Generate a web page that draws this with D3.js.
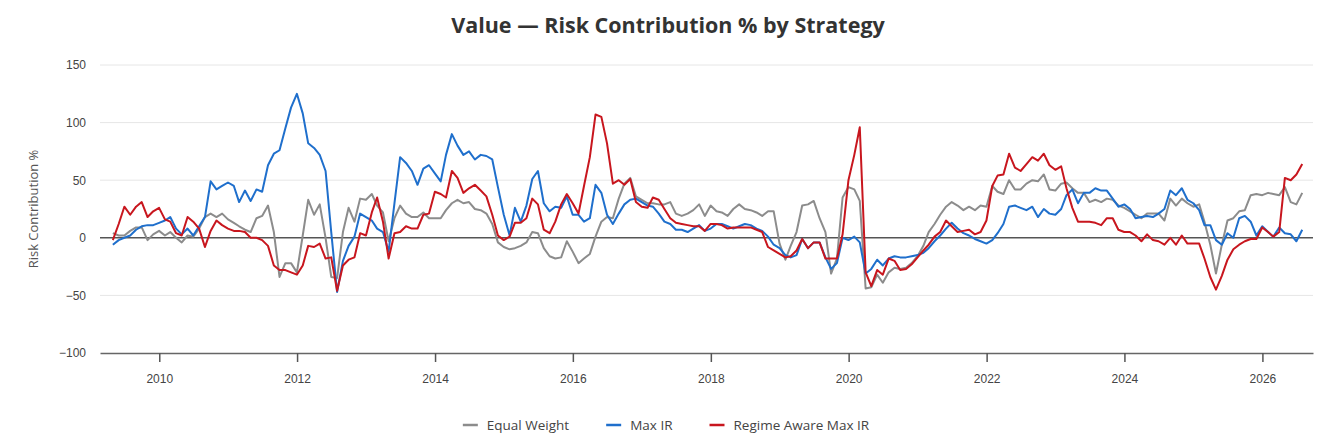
<!DOCTYPE html>
<html>
<head>
<meta charset="utf-8">
<script src="https://cdn.jsdelivr.net/npm/d3@7"></script>
<style>
    body { margin: 0; background: #fff; }
    svg { display: block; font-family: "Open Sans", "Noto Sans", sans-serif; }
</style>
</head>
<body>
<div id="chart"></div>
<script>
// Monthly observations, month-end, starting April 2009
let startYear = 2009
let startMonth = 4   // April

// Tick labels on the axes
let yearTicks = [2010, 2012, 2014, 2016, 2018, 2020, 2022, 2024, 2026]
let valueTicks = [-100, -50, 0, 50, 100, 150]

// Series names and colours
let seriesNames = ['Equal Weight', 'Max IR', 'Regime Aware Max IR']
let seriesColors = ['#8c8c8c', '#1f6fcc', '#c8161e']

// Risk contribution % per month
let equalWeight = [
    4, 2, 2, 6, 9, 9, -2, 3, 6, 2, 5, 0, -4, 2, 1, 8, 18, 21, 18, 21, 16, 13, 10, 7, 5, 17,
    19, 28, 5, -34, -22, -22, -30, 2, 33, 20, 29, 0, -34, -35, 5, 26, 14, 34, 33, 38, 28, 22, -3, 17, 28, 21,
    18, 18, 22, 17, 17, 17, 24, 30, 33, 30, 31, 25, 24, 21, 12, -4, -8, -10, -9, -7, -4, 5, 4, -9, -16, -18,
    -17, -3, -12, -22, -18, -14, 1, 14, 18, 17, 34, 47, 52, 36, 33, 30, 30, 29, 29, 31, 21, 19, 21, 24, 29, 19,
    28, 23, 22, 19, 25, 29, 25, 24, 22, 19, 23, 23, -5, -19, -7, 5, 28, 29, 32, 17, 5, -31, -18, 35, 44, 42, 32,
    -44, -43, -32, -39, -30, -26, -27, -26, -22, -16, -7, 5, 12, 20, 27, 31, 28, 24, 27, 24, 28, 27, 45, 40, 38,
    50, 42, 42, 47, 50, 49, 55, 42, 41, 47, 48, 43, 39, 39, 31, 33, 31, 34, 33, 28, 26, 23, 20, 17, 21, 21, 21,
    15, 34, 28, 34, 30, 27, 29, 14, -6, -31, -6, 15, 17, 23, 24, 37, 38, 37, 39, 38, 37, 44, 31, 29, 39
]
let maxIR = [
    -6, -2, 0, 2, 7, 10, 11, 11, 13, 15, 18, 8, 3, 8, 2, 10, 18, 49, 42, 45, 48, 45, 31, 41, 32, 42,
    40, 63, 73, 76, 95, 113, 125, 108, 82, 78, 72, 58, 5, -47, -20, -7, 1, 21, 18, 15, 8, 5, -12, 30, 70, 65,
    58, 46, 60, 63, 56, 49, 72, 90, 80, 72, 75, 68, 72, 71, 68, 44, 20, 2, 26, 14, 28, 51, 58, 30, 23, 27,
    26, 36, 20, 20, 14, 17, 46, 39, 20, 12, 21, 29, 33, 34, 31, 28, 27, 21, 14, 12, 7, 7, 5, 8, 11, 6,
    8, 12, 12, 10, 8, 10, 12, 11, 8, 6, 1, -6, -9, -15, -17, -15, -1, -9, -4, -4, -17, -27, -22, 0, -2, 1, -4,
    -31, -27, -19, -24, -18, -16, -17, -17, -16, -15, -13, -9, -3, 2, 8, 13, 8, 4, 2, -1, -3, -5, -2, 4, 12,
    27, 28, 26, 24, 27, 18, 25, 21, 20, 25, 37, 42, 30, 39, 39, 43, 41, 41, 34, 27, 29, 25, 17, 18, 19, 18, 21,
    25, 41, 37, 43, 33, 30, 24, 11, 11, -2, -6, 4, 0, 17, 19, 14, 2, 10, 5, 1, 9, 4, 3, -3, 7
]
let regimeAware = [
    -2, 12, 27, 20, 27, 31, 18, 23, 26, 16, 14, 4, 2, 18, 14, 8, -8, 6, 15, 11, 8, 6, 6, 5, 0, 0,
    -2, -7, -24, -28, -28, -30, -32, -24, -7, -8, -5, -18, -17, -46, -24, -19, -17, 4, 2, 22, 35, 14, -18, 4, 5, 10,
    8, 8, 20, 21, 40, 38, 35, 58, 52, 39, 43, 46, 41, 36, 20, 2, -2, 1, 13, 13, 17, 34, 29, 7, 4, 14,
    29, 38, 30, 21, 45, 70, 107, 105, 82, 47, 50, 46, 51, 31, 27, 26, 35, 33, 25, 17, 13, 12, 11, 10, 10, 6,
    12, 12, 11, 8, 9, 9, 9, 9, 7, 5, -8, -11, -14, -17, -16, -11, -1, -9, -4, -4, -18, -18, -18, 3, 50, 72, 96,
    -30, -42, -28, -32, -18, -20, -28, -27, -23, -17, -11, -6, 1, 5, 15, 10, 5, 6, 7, 3, 5, 15, 45, 54, 55,
    73, 61, 58, 64, 70, 67, 73, 63, 59, 62, 43, 26, 14, 14, 14, 13, 11, 17, 17, 7, 5, 5, 2, -3, 3, -2, -3,
    -6, 0, -6, 2, -5, -5, -5, -18, -34, -45, -33, -19, -10, -6, -3, -1, -1, 9, 5, 1, 5, 52, 50, 55, 64
]

window.onload = function() {
    DrawChart();
}

function DrawChart() {
    let width = 1340
    let height = 435
    let margin = { top: 65, right: 27, bottom: 82, left: 100 }

    // Month-end dates for every observation
    let dates = equalWeight.map((d, i) => new Date(startYear, startMonth + i, 0))
    let allSeries = [equalWeight, maxIR, regimeAware]

    let svg = d3.select('#chart')
        .append('svg')
        .attr('width', width)
        .attr('height', height);

    // Scales
    let x = d3.scaleTime()
        .domain([new Date(2009, 1, 21), new Date(2026, 8, 26)])
        .range([margin.left, width - margin.right]);
    let y = d3.scaleLinear()
        .domain([-100, 150])
        .range([height - margin.bottom, margin.top]);

    // Horizontal grid lines
    svg.append('g')
        .selectAll('line')
        .data(valueTicks.filter(v => v !== 0 && v !== -100))
        .join('line')
        .attr('x1', margin.left)
        .attr('x2', width - margin.right)
        .attr('y1', d => y(d))
        .attr('y2', d => y(d))
        .attr('stroke', '#e6e6e6')
        .attr('stroke-width', 1);

    // Y axis labels (no axis line)
    let yAxis = svg.append('g')
        .attr('transform', `translate(${margin.left},0)`)
        .call(d3.axisLeft(y).tickValues(valueTicks).tickSize(0).tickPadding(14));
    yAxis.select('.domain').remove();
    yAxis.selectAll('text')
        .attr('fill', '#444')
        .style('font-size', '12px');

    // X axis with year ticks
    let xAxis = svg.append('g')
        .attr('transform', `translate(0,${height - margin.bottom})`)
        .call(d3.axisBottom(x)
            .tickValues(yearTicks.map(yr => new Date(yr, 0, 1)))
            .tickFormat(d3.timeFormat('%Y'))
            .tickSize(9)
            .tickSizeOuter(0)
            .tickPadding(12));
    xAxis.select('.domain').attr('stroke', '#666').attr('stroke-width', 1.5);
    xAxis.selectAll('.tick line').attr('stroke', '#555').attr('stroke-width', 1.5);
    xAxis.selectAll('text')
        .attr('fill', '#444')
        .style('font-size', '12px');

    // Zero line
    svg.append('line')
        .attr('x1', margin.left)
        .attr('x2', width - margin.right)
        .attr('y1', y(0))
        .attr('y2', y(0))
        .attr('stroke', '#555')
        .attr('stroke-width', 1.5);

    // Series lines
    let line = d3.line()
        .x((d, i) => x(dates[i]))
        .y(d => y(d));
    svg.append('g')
        .selectAll('path')
        .data(allSeries)
        .join('path')
        .attr('d', d => line(d))
        .attr('fill', 'none')
        .attr('stroke', (d, i) => seriesColors[i])
        .attr('stroke-width', 2)
        .attr('stroke-linejoin', 'round');

    // Title
    svg.append('text')
        .attr('x', 668)
        .attr('y', 33)
        .attr('text-anchor', 'middle')
        .attr('fill', '#333')
        .style('font-size', '21.5px')
        .style('font-weight', 'bold')
        .text('Value — Risk Contribution % by Strategy');

    // Y axis title
    svg.append('text')
        .attr('transform', `translate(38,${y(25)}) rotate(-90)`)
        .attr('text-anchor', 'middle')
        .attr('fill', '#555')
        .style('font-size', '13px')
        .text('Risk Contribution %');

    // Legend, centred under the chart
    let legend = svg.append('g');
    let items = legend.selectAll('g')
        .data(seriesNames)
        .join('g');
    items.append('line')
        .attr('x1', 0)
        .attr('x2', 15)
        .attr('y1', 0)
        .attr('y2', 0)
        .attr('stroke', (d, i) => seriesColors[i])
        .attr('stroke-width', 2.5);
    items.append('text')
        .attr('x', 24)
        .attr('y', 4.5)
        .attr('fill', '#444')
        .style('font-size', '13.5px')
        .text(d => d);

    let offset = 0
    let gap = 37
    items.each(function() {
        let w = 24 + d3.select(this).select('text').node().getComputedTextLength()
        d3.select(this).attr('transform', `translate(${offset},0)`)
        offset += w + gap
    });
    let total = offset - gap
    legend.attr('transform', `translate(${666 - total / 2},425)`);
}
</script>
</body>
</html>
